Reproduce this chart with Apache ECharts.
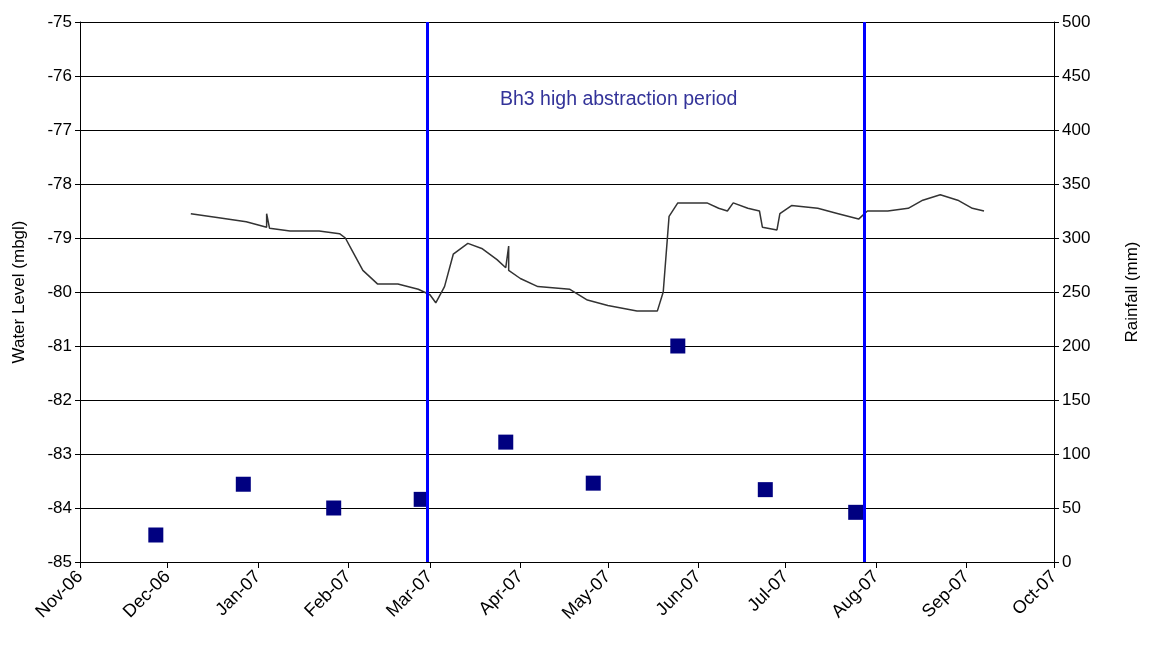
<!DOCTYPE html>
<html><head><meta charset="utf-8">
<script src="https://cdn.jsdelivr.net/npm/echarts@6/dist/echarts.min.js"></script>
<style>html,body{margin:0;background:#fff}#c{width:1149px;height:653px}</style>
</head><body><div id="c"></div>
<script>
var levelDates = ['2006-12-09','2006-12-18','2006-12-28','2007-01-04','2007-01-04','2007-01-05','2007-01-12','2007-01-22','2007-01-29','2007-01-31','2007-02-02','2007-02-06','2007-02-11','2007-02-18','2007-02-25','2007-03-01','2007-03-03','2007-03-06','2007-03-09','2007-03-14','2007-03-19','2007-03-24','2007-03-27','2007-03-28','2007-03-28','2007-04-01','2007-04-07','2007-04-18','2007-04-24','2007-05-01','2007-05-11','2007-05-18','2007-05-20','2007-05-22','2007-05-25','2007-06-04','2007-06-08','2007-06-11','2007-06-13','2007-06-18','2007-06-22','2007-06-23','2007-06-28','2007-06-29','2007-07-03','2007-07-12','2007-07-19','2007-07-26','2007-07-29','2007-08-05','2007-08-12','2007-08-17','2007-08-23','2007-08-29','2007-09-03','2007-09-07'];
var levelValues = [-78.55,-78.62,-78.7,-78.8,-78.55,-78.82,-78.87,-78.87,-78.92,-79.0,-79.2,-79.6,-79.85,-79.85,-79.95,-80.05,-80.2,-79.9,-79.3,-79.1,-79.2,-79.4,-79.55,-79.15,-79.6,-79.75,-79.9,-79.95,-80.15,-80.25,-80.35,-80.35,-80.0,-78.6,-78.35,-78.35,-78.45,-78.5,-78.35,-78.45,-78.5,-78.8,-78.85,-78.55,-78.4,-78.45,-78.55,-78.65,-78.5,-78.5,-78.45,-78.3,-78.2,-78.3,-78.45,-78.5];
var rainDates = ['2006-11-27','2006-12-27','2007-01-27','2007-02-26','2007-03-27','2007-04-26','2007-05-25','2007-06-24','2007-07-25'];
var rainValues = [25,72,50,58,111,73,200,67,46];
var periodBounds = ['2007-02-28','2007-07-28'];
var months = ['Jan','Feb','Mar','Apr','May','Jun','Jul','Aug','Sep','Oct','Nov','Dec'];

var chart = echarts.init(document.getElementById('c'));
var font = 'Liberation Sans, Arial, sans-serif';
var option = {
  animation: false,
  grid: {left: 80, right: 94, top: 22, bottom: 91},
  xAxis: {
    type: 'time',
    min: new Date(2006, 10, 1).getTime(),
    max: new Date(2007, 9, 1).getTime(),
    minInterval: 28 * 86400000, maxInterval: 31 * 86400000,
    axisLine: {lineStyle: {color: '#000'}},
    axisTick: {show: true, length: 6, lineStyle: {color: '#000'}},
    splitLine: {show: false},
    axisLabel: {
      rotate: 45, color: '#000', fontSize: 18, fontFamily: font,
      showMinLabel: true, showMaxLabel: true, margin: 12,
      formatter: function (v) {
        var d = new Date(v);
        return months[d.getMonth()] + '-' + String(d.getFullYear()).slice(2);
      }
    }
  },
  yAxis: [{
    type: 'value', min: -85, max: -75, interval: 1,
    name: 'Water Level (mbgl)', nameLocation: 'middle', nameGap: 52,
    nameTextStyle: {color: '#000', fontSize: 17, fontFamily: font},
    axisLine: {show: true, lineStyle: {color: '#000'}},
    axisTick: {show: true, lineStyle: {color: '#000'}},
    axisLabel: {color: '#000', fontSize: 17, fontFamily: font},
    splitLine: {lineStyle: {color: '#000', width: 1}}
  }, {
    type: 'value', min: 0, max: 500, interval: 50,
    name: 'Rainfall (mm)', nameLocation: 'middle', nameGap: 70, nameRotate: 90,
    nameTextStyle: {color: '#000', fontSize: 17, fontFamily: font},
    axisLine: {show: true, lineStyle: {color: '#000'}},
    axisTick: {show: true, lineStyle: {color: '#000'}},
    axisLabel: {color: '#000', fontSize: 17, fontFamily: font},
    splitLine: {show: false}
  }],
  graphic: [{
    type: 'text', left: 500, top: 90,
    style: {text: 'Bh3 high abstraction period', fill: '#333399', fontSize: 19.5, fontFamily: font}
  }],
  series: [{
    type: 'line', yAxisIndex: 0, showSymbol: false,
    lineStyle: {color: '#333', width: 1.5},
    data: levelDates.map(function (d, i) { return [d, levelValues[i]]; }),
    markLine: {
      symbol: 'none', silent: true, label: {show: false},
      lineStyle: {color: '#0000ff', width: 3, type: 'solid'},
      data: periodBounds.map(function (d) { return {xAxis: d}; })
    }
  }, {
    type: 'scatter', yAxisIndex: 1, symbol: 'rect', symbolSize: 15,
    itemStyle: {color: '#000080', opacity: 1},
    data: rainDates.map(function (d, i) { return [d, rainValues[i]]; })
  }]
};
chart.setOption(option);
</script></body></html>
